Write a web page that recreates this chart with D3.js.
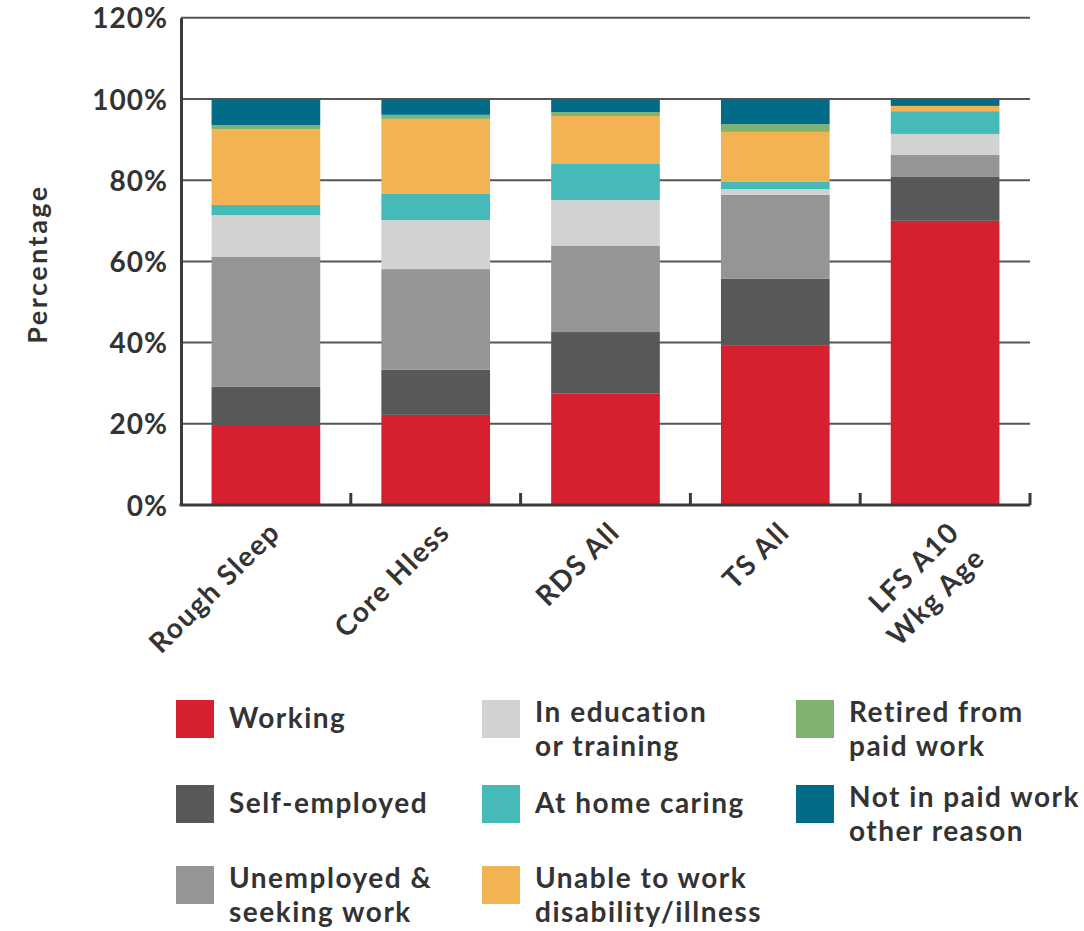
<!DOCTYPE html>
<html>
<head>
<meta charset="utf-8">
<script src="https://cdn.jsdelivr.net/npm/d3@7"></script>
<style>
  html, body { margin: 0; padding: 0; background: #fff; }
  svg text { font-family: Lato, "Open Sans", sans-serif; font-weight: 700; fill: #333; }
</style>
</head>
<body>
<svg id="chart" width="1084" height="931"></svg>
<script>
const categories = ["Rough Sleep", "Core Hless", "RDS All", "TS All", "LFS A10\nWkg Age"];
const seriesNames = ["Working", "Self-employed", "Unemployed & seeking work", "In education or training",
  "At home caring", "Unable to work disability/illness", "Retired from paid work", "Not in paid work other reason"];
const working      = [19.7, 22.2, 27.4, 39.2, 70.0];
const selfEmployed = [9.4, 11.1, 15.2, 16.5, 10.8];
const unemployed   = [32.1, 24.8, 21.3, 20.7, 5.4];
const education    = [10.2, 12.1, 11.2, 1.4, 5.2];
const caring       = [2.5, 6.4, 8.9, 1.8, 5.6];
const unable       = [18.7, 18.5, 11.8, 12.3, 1.3];
const retired      = [1.0, 1.0, 1.0, 1.9, 0.0];
const other        = [6.4, 3.9, 3.2, 6.2, 1.7];
const colors = ["#d7202f", "#575958", "#949695", "#d1d3d2", "#46b9b9", "#f4b353", "#80b270", "#016b88"];
const yTicks = [0, 20, 40, 60, 80, 100, 120];
const legendLabels = [["Working"], ["Self-employed"], ["Unemployed &", "seeking work"],
  ["In education", "or training"], ["At home caring"], ["Unable to work", "disability/illness"],
  ["Retired from", "paid work"], ["Not in paid work", "other reason"]];

(function () {
const seriesValues = [working, selfEmployed, unemployed, education, caring, unable, retired, other];
const rows = categories.map((c, i) => {
  const r = { cat: c };
  seriesNames.forEach((s, j) => r[s] = seriesValues[j][i]);
  return r;
});
const stacked = d3.stack().keys(seriesNames)(rows);

const svg = d3.select("#chart");
const mLeft = 181, mRight = 1030, mTop = 17.8, mBottom = 505;
const x = d3.scaleBand().domain(categories).range([mLeft, mRight]).paddingInner(0.36).paddingOuter(0.18);
const y = d3.scaleLinear().domain([0, 120]).range([mBottom, mTop]);

// gridlines
svg.append("g").selectAll("line").data(yTicks.filter(t => t > 0)).join("line")
  .attr("x1", mLeft).attr("x2", mRight)
  .attr("y1", d => y(d)).attr("y2", d => y(d))
  .attr("stroke", "#555").attr("stroke-width", 2);

// bars
svg.append("g").selectAll("g").data(stacked).join("g")
  .attr("fill", (d, i) => colors[i])
  .selectAll("rect").data(d => d).join("rect")
  .attr("x", d => x(d.data.cat))
  .attr("width", x.bandwidth())
  .attr("y", d => y(d[1]))
  .attr("height", d => Math.max(0, y(d[0]) - y(d[1])));

// y axis
const yAxis = d3.axisLeft(y).tickValues(yTicks).tickFormat(d => d + "%").tickSize(0).tickPadding(13);
const gy = svg.append("g").attr("transform", `translate(${mLeft},0)`).call(yAxis);
gy.select(".domain").attr("stroke", "#3a3a3a").attr("stroke-width", 3);
gy.selectAll("text").style("font-size", "28px").style("letter-spacing", "1px")
  .style("font-family", "Lato, sans-serif").style("font-weight", 700)
  .attr("fill", "#333").attr("dy", "0.36em");

// x axis
const boundaries = categories.map((c, i) => mLeft + i * (mRight - mLeft) / categories.length).slice(1).concat([mRight]);
svg.append("line").attr("x1", mLeft - 1.5).attr("x2", mRight).attr("y1", mBottom).attr("y2", mBottom)
  .attr("stroke", "#3a3a3a").attr("stroke-width", 3);
svg.append("g").selectAll("line").data(boundaries).join("line")
  .attr("x1", d => d).attr("x2", d => d).attr("y1", mBottom).attr("y2", mBottom - 12)
  .attr("stroke", "#3a3a3a").attr("stroke-width", 3);

// x labels
const xl = svg.append("g").selectAll("text").data(categories).join("text")
  .attr("transform", d => `translate(${x(d) + x.bandwidth() / 2 + 9},${mBottom + 22}) rotate(-45)`)
  .attr("text-anchor", "end")
  .style("font-size", "28px").style("letter-spacing", "1.5px");
xl.each(function(d) {
  const lines = d.split("\n");
  const t = d3.select(this);
  lines.forEach((ln, i) => {
    t.append("tspan").attr("x", 0).attr("dy", i === 0 ? "0.35em" : "1.3em").text(ln);
  });
});

// y title
svg.append("text").attr("transform", "translate(47,264) rotate(-90)")
  .attr("text-anchor", "middle").style("font-size", "27px").style("letter-spacing", "2.5px").text("Percentage");

// legend
const legX = [176, 482, 796];
const legY = [700, 785, 866];
legendLabels.forEach((lab, i) => {
  const col = Math.floor(i / 3), row = i % 3;
  const gx = legX[col], gyv = legY[row];
  svg.append("rect").attr("x", gx).attr("y", gyv).attr("width", 38).attr("height", 38).attr("fill", colors[i]);
  const t = svg.append("text").attr("x", gx + 53).style("font-size", "28px").style("letter-spacing", "1.5px");
  if (lab.length === 1) {
    t.attr("y", gyv + 28).text(lab[0]);
  } else {
    lab.forEach((ln, k) => t.append("tspan").attr("x", gx + 53).attr("y", gyv + 22 + k * 34).text(ln));
  }
});
})();
</script>
</body>
</html>
